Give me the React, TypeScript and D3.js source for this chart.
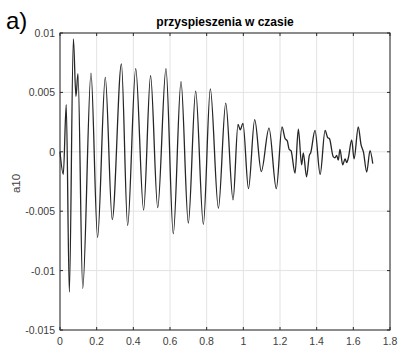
import React from "react";
import * as d3 from "d3";

const times = [0, 0.018, 0.034, 0.051, 0.073, 0.087, 0.098, 0.124, 0.169, 0.205, 0.247, 0.285, 0.335, 0.369, 0.413, 0.456, 0.494, 0.533, 0.578, 0.618, 0.66, 0.70, 0.74, 0.782, 0.82, 0.864, 0.904, 0.944, 0.971, 0.983, 0.998, 1.028, 1.062, 1.098, 1.14, 1.18, 1.211, 1.227, 1.24, 1.25, 1.26, 1.282, 1.30, 1.318, 1.327, 1.345, 1.36, 1.367, 1.391, 1.419, 1.446, 1.46, 1.47, 1.49, 1.50, 1.509, 1.518, 1.527, 1.542, 1.555, 1.564, 1.573, 1.591, 1.604, 1.627, 1.642, 1.655, 1.673, 1.691, 1.706];
const accel = [0, -0.0019, 0.00396, -0.0118, 0.0095, 0.00466, 0.00658, -0.0115, 0.00663, -0.0072, 0.00626, -0.0057, 0.0074, -0.0062, 0.0070, -0.0049, 0.0064, -0.0047, 0.0070, -0.0069, 0.0059, -0.0060, 0.0051, -0.0061, 0.0053, -0.00475, 0.0041, -0.00405, 0.0023, 0.00185, 0.0024, -0.0031, 0.0027, -0.00166, 0.0020, -0.0031, 0.0021, 0.00115, 0.0009, 0.0002, 0.0001, -0.0018, 0.0019, -0.0011, -0.0001, -0.0021, -0.0003, -0.0001, 0.0018, -0.0019, 0.0018, 0.0012, 0.0011, -0.0004, -0.0005, -0.0003, -0.0007, 0.0002, -0.0011, -0.0006, -0.0009, -0.0005, 0.0010, -0.0006, 0.0021, 0.0006, 0.0, -0.0017, 0.0001, -0.001];

const xTicks = [0, 0.2, 0.4, 0.6, 0.8, 1, 1.2, 1.4, 1.6, 1.8];
const yTicks = [0.01, 0.005, 0, -0.005, -0.01, -0.015];
const title = "przyspieszenia w czasie";
const yLabel = "a10";
const panelLabel = "a)";

export default function App() {
  const left = 60, right = 390, top = 33, bottom = 330;
  const x = d3.scaleLinear().domain([0, 1.8]).range([left, right]);
  const y = d3.scaleLinear().domain([-0.015, 0.01]).range([bottom, top]);
  const pts = times.map((t, i) => [t, accel[i]] as [number, number]);
  const line = d3.line<[number, number]>().x(d => x(d[0])).y(d => y(d[1])).curve(d3.curveMonotoneX);
  const font = "'Liberation Sans', Arial, sans-serif";
  const axisColor = "#262626";
  const labelColor = "#404040";
  const grid = "#e3e3e3";
  return (
    <svg width={398} height={352} style={{ position: "absolute", left: 0, top: 0, background: "#fff" }} fontFamily={font}>
      <rect x={0} y={0} width={398} height={352} fill="#fff" />
      {xTicks.map(t => (
        <line key={"gx" + t} x1={x(t)} x2={x(t)} y1={top} y2={bottom} stroke={grid} strokeWidth={1} />
      ))}
      {yTicks.map(t => (
        <line key={"gy" + t} x1={left} x2={right} y1={y(t)} y2={y(t)} stroke={grid} strokeWidth={1} />
      ))}
      <path d={line(pts) || ""} fill="none" stroke="#262626" strokeWidth={1.3} strokeLinejoin="round" />
      <rect x={left} y={top} width={right - left} height={bottom - top} fill="none" stroke={axisColor} strokeWidth={1} />
      {xTicks.map(t => (
        <g key={"tx" + t}>
          <line x1={x(t)} x2={x(t)} y1={bottom} y2={bottom - 3} stroke={axisColor} />
          <line x1={x(t)} x2={x(t)} y1={top} y2={top + 3} stroke={axisColor} />
          <text x={x(t)} y={bottom + 15} textAnchor="middle" fontSize={10.5} fill={labelColor}>{String(t)}</text>
        </g>
      ))}
      {yTicks.map(t => (
        <g key={"ty" + t}>
          <line x1={left} x2={left + 3} y1={y(t)} y2={y(t)} stroke={axisColor} />
          <line x1={right} x2={right - 3} y1={y(t)} y2={y(t)} stroke={axisColor} />
          <text x={left - 5} y={y(t) + 4} textAnchor="end" fontSize={10.5} fill={labelColor}>{String(t)}</text>
        </g>
      ))}
      <text x={(left + right) / 2} y={26} textAnchor="middle" fontSize={12} fontWeight="bold" fill="#000">{title}</text>
      <text transform={`translate(20,${(top + bottom) / 2 + 2}) rotate(-90)`} textAnchor="middle" fontSize={11.5} fill={labelColor}>{yLabel}</text>
      <text x={6} y={29} fontSize={24} fill="#000">{panelLabel}</text>
    </svg>
  );
}
